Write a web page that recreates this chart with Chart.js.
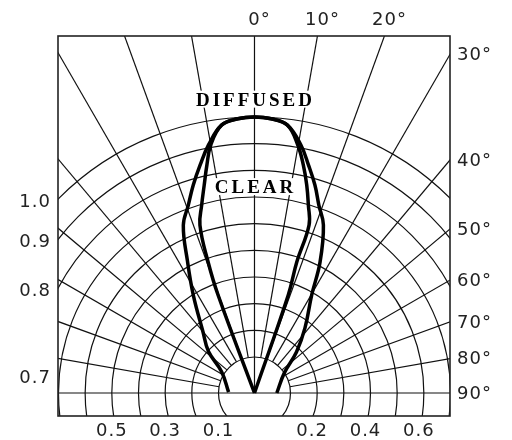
<!DOCTYPE html>
<html>
<head>
<meta charset="utf-8">
<script src="https://cdn.jsdelivr.net/npm/chart.js@4.4.1/dist/chart.umd.min.js"></script>
<style>
  html, body { margin: 0; padding: 0; background: #fff; }
  canvas { display: block; }
</style>
</head>
<body>
<canvas id="chart" width="512" height="440"></canvas>
<script>
// angle from the lamp axis in degrees (left side negative), relative intensity
var diffusedAngles = [-88, -57, -48, -40, -32, -27, -23, -19.4, -16.4, -13.4, -10.5, -7, -3.5, 0, 3.5, 7, 10.6, 13.3, 16.2, 18.9, 22.3, 26.6, 30.3, 37.8, 45.7, 56, 90];
var diffusedValues = [0.072, 0.112, 0.197, 0.266, 0.398, 0.518, 0.648, 0.712, 0.778, 0.844, 0.911, 0.977, 0.995, 1.0, 0.995, 0.977, 0.911, 0.844, 0.777, 0.71, 0.646, 0.514, 0.39, 0.274, 0.185, 0.1, 0.062];

var clearAngles = [-21, -20.4, -19.5, -18, -15.7, -13.6, -11.8, -10, -7, -3.5, 0, 3.5, 7, 9.9, 12.1, 14.1, 16, 18, 17.9, 19, 20];
var clearValues = [0, 0.357, 0.486, 0.627, 0.697, 0.767, 0.838, 0.909, 0.977, 0.995, 1.0, 0.995, 0.977, 0.909, 0.839, 0.769, 0.698, 0.627, 0.481, 0.354, 0];

// grid
var ringValues = [0.1, 0.2, 0.3, 0.4, 0.5, 0.6, 0.7, 0.8, 0.9, 1.0];
var spokeAngles = [-90, -80, -70, -60, -50, -40, -30, -20, -10, 0, 10, 20, 30, 40, 50, 60, 70, 80, 90];
var angleLabels = [0, 10, 20, 30, 40, 50, 60, 70, 80, 90];
var leftLabels = [0.7, 0.8, 0.9, 1.0];
var bottomLabels = [0.5, 0.3, 0.1, 0.2, 0.4, 0.6];

// the innermost ring is drawn a little wider than the rest
function radius(v) {
  return v < 0.1 ? v * 1.35 : v + 0.035;
}

function toXY(angles, values) {
  return angles.map(function(a, i) {
    var t = a * Math.PI / 180, r = radius(values[i]);
    return {x: r * Math.sin(t), y: r * Math.cos(t)};
  });
}

var polarGrid = {
  id: 'polarGrid',
  beforeDatasetsDraw: function(chart) {
    var ctx = chart.ctx, a = chart.chartArea;
    var ox = chart.scales.x.getPixelForValue(0), oy = chart.scales.y.getPixelForValue(0);
    var unit = chart.scales.x.getPixelForValue(1) - ox;
    ctx.save();
    ctx.beginPath();
    ctx.rect(a.left, a.top, a.right - a.left, a.bottom - a.top);
    ctx.clip();
    ctx.strokeStyle = '#111';
    ctx.lineWidth = 1.2;
    ringValues.forEach(function(v) {
      ctx.beginPath();
      ctx.arc(ox, oy, radius(v) * unit, 0, 2 * Math.PI);
      ctx.stroke();
    });
    spokeAngles.forEach(function(d) {
      var t = d * Math.PI / 180;
      var r0 = (d === 0 || Math.abs(d) === 90) ? 0 : radius(0.1) * unit;
      ctx.beginPath();
      ctx.moveTo(ox + r0 * Math.sin(t), oy - r0 * Math.cos(t));
      ctx.lineTo(ox + 1000 * Math.sin(t), oy - 1000 * Math.cos(t));
      ctx.stroke();
    });
    ctx.restore();
  },
  afterDraw: function(chart) {
    var ctx = chart.ctx, a = chart.chartArea;
    var ox = chart.scales.x.getPixelForValue(0), oy = chart.scales.y.getPixelForValue(0);
    var unit = chart.scales.x.getPixelForValue(1) - ox;
    ctx.save();
    ctx.strokeStyle = '#222';
    ctx.lineWidth = 1.6;
    ctx.strokeRect(a.left, a.top, a.right - a.left, a.bottom - a.top);

    // series names on white
    ctx.font = 'bold 19px "Liberation Serif"';
    ctx.letterSpacing = '3px';
    ctx.textAlign = 'center';
    ctx.textBaseline = 'middle';
    [['DIFFUSED', chart.scales.y.getPixelForValue(radius(1.0) + 0.065)],
     ['CLEAR', chart.scales.y.getPixelForValue(0.772)]].forEach(function(s) {
      var w = ctx.measureText(s[0]).width;
      ctx.fillStyle = '#fff';
      ctx.fillRect(ox - w / 2 - 2, s[1] - 9, w + 2, 17);
      ctx.fillStyle = '#000';
      ctx.fillText(s[0], ox + 1, s[1] + 1);
    });

    ctx.font = '18px "DejaVu Sans"';
    ctx.letterSpacing = '1px';
    ctx.fillStyle = '#222';

    // angle labels where the spokes leave the box
    angleLabels.forEach(function(d) {
      var t = d * Math.PI / 180;
      var hx = ox + (oy - a.top) * Math.tan(t);
      if (d < 90 && hx <= a.right) {
        var w = ctx.measureText(String(d)).width;
        ctx.textAlign = 'left';
        ctx.fillText(d + '°', hx - w / 2, a.top - 16);
      } else {
        var hy = d === 90 ? oy : oy - (a.right - ox) / Math.tan(t);
        ctx.textAlign = 'left';
        ctx.fillText(d + '°', a.right + 7, hy + 1);
      }
    });

    // intensity labels on the left edge
    var dx = ox - a.left;
    leftLabels.forEach(function(v) {
      var r = radius(v) * unit;
      var y = r > dx ? oy - Math.sqrt(r * r - dx * dx) : oy;
      ctx.textAlign = 'right';
      ctx.fillText(v.toFixed(1), a.left - 7, Math.min(y + 3, oy - 15));
    });

    // intensity labels under the box, odd rings left, even rings right
    bottomLabels.forEach(function(v) {
      var r = radius(v) * unit;
      var left = Math.round(v * 10) % 2 === 1;
      var x = left ? Math.min(ox - r, ox - 27) : ox + r - 5;
      ctx.textAlign = 'center';
      ctx.fillText(v.toFixed(1), x, a.bottom + 15);
    });
    ctx.restore();
  }
};

var lineStyle = {showLine: true, borderColor: '#000', borderWidth: 3.5, pointRadius: 0, tension: 0.4, fill: false};

new Chart(document.getElementById('chart'), {
  type: 'scatter',
  data: {
    datasets: [
      Object.assign({label: 'DIFFUSED', data: toXY(diffusedAngles, diffusedValues)}, lineStyle),
      Object.assign({label: 'CLEAR', data: toXY(clearAngles, clearValues)}, lineStyle)
    ]
  },
  options: {
    responsive: false,
    animation: false,
    layout: {padding: {left: 58, right: 62, top: 36, bottom: 24}},
    plugins: {legend: {display: false}, tooltip: {enabled: false}},
    scales: {
      x: {type: 'linear', min: -0.7368, max: 0.7331, display: false},
      y: {type: 'linear', min: -0.0862, max: 1.3386, display: false}
    }
  },
  plugins: [polarGrid]
});
</script>
</body>
</html>
